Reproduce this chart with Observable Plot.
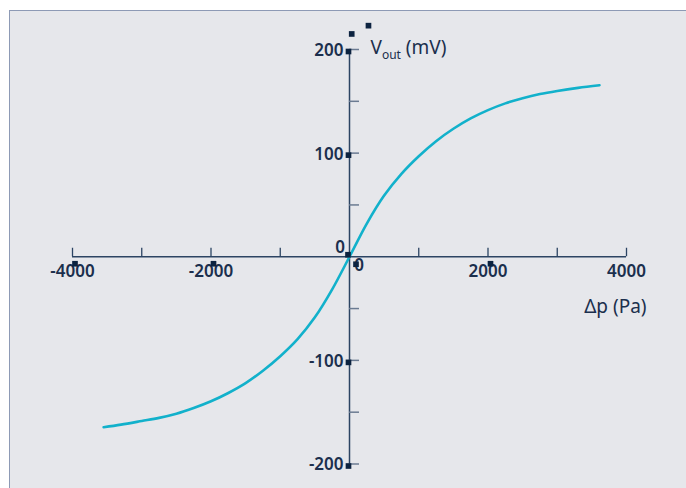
<!DOCTYPE html>
<html><head><meta charset="utf-8">
<script src="https://cdn.jsdelivr.net/npm/d3@7"></script>
<script src="https://cdn.jsdelivr.net/npm/@observablehq/plot@0.6"></script>
<style>
html,body{margin:0;padding:0;background:#fff;overflow:hidden;}
#wrap{position:relative;width:686px;height:488px;}
#panel{position:absolute;left:9px;top:10px;right:0;bottom:0;background:#e6e7eb;border-top:1.5px solid #8d9ab5;border-left:1.5px solid #8d9ab5;}
#chart{position:absolute;left:0;top:0;}
</style></head><body>
<div id="wrap"><div id="panel"></div><div id="chart"></div></div>
<script>
// Sensor output voltage vs. differential pressure
const pressure = [-3550, -3300, -3000, -2750, -2500, -2250, -2000, -1750, -1500, -1250, -1000, -750, -500, -250, 0,
                  250, 500, 750, 1000, 1250, 1500, 1750, 2000, 2250, 2500, 2750, 3000, 3300, 3610];
const voltage  = [-164.5, -162, -158.5, -155.5, -151.5, -146, -139.5, -131.5, -122, -110, -96, -79.5, -58.5, -31.5, 0,
                  32, 59, 80, 97, 111.5, 123.5, 133.5, 141.5, 148, 153, 157, 160, 163, 165.5];

const xLabelTicks = [-4000, -2000, 2000, 4000];
const xMinorTicks = [-3000, -1000, 1000, 3000];
const yTicks = [-200, -150, -100, -50, 50, 100, 150, 200];
const yLabelTicks = [-200, -100, 100, 200];
const zeroLabel = ["0"];
const xTitle = ["Δp (Pa)"];
const yTitle = ["Vout (mV)"];

// small square markers seen in the picture
const xMarkers = [-4000, -2000, 2000];
const yMarkers = [-200, -100, 100, 200];
const strayX = [32, 274];
const strayY = [215, 223];

const curve = pressure.map((p, i) => ({p, v: voltage[i]}));
const strays = strayX.map((x, i) => ({x, y: strayY[i]}));

const axisColor = "#2c4463";
const textColor = "#1b2f4d";
const squareColor = "#0c2340";

const chart = Plot.plot({
  width: 686, height: 488,
  marginLeft: 72, marginRight: 60, marginTop: 49, marginBottom: 24.5,
  x: {domain: [-4000, 4000], axis: null},
  y: {domain: [-200, 200], axis: null},
  style: {background: "transparent", fontFamily: "'Noto Sans', 'Open Sans', sans-serif", overflow: "visible"},
  marks: [
    Plot.ruleY([0], {x1: -4000, x2: 4000, stroke: axisColor, strokeWidth: 1.5}),
    Plot.ruleX([0], {y1: -200, y2: 200, stroke: axisColor, strokeWidth: 1.5}),
    Plot.ruleX([...xLabelTicks, ...xMinorTicks], {x: d => d, y1: 0, y2: 0, insetBottom: 8.5, stroke: axisColor, strokeWidth: 1.3}),
    Plot.ruleY(yTicks, {y: d => d, x1: 0, x2: 0, insetLeft: 10, stroke: "#6b7b92", strokeWidth: 1.5}),
    Plot.line(curve, {x: "p", y: "v", stroke: "#12b1cb", strokeWidth: 2.6, curve: "catmull-rom"}),
    Plot.text(xLabelTicks, {x: d => d, y: 0, text: d => String(d), dy: 14.5, fontSize: 17, fontWeight: 600, fill: textColor}),
    Plot.text(yLabelTicks, {x: 0, y: d => d, text: d => String(d), textAnchor: "end", dx: -6, dy: 1, fontSize: 17, fontWeight: 600, fill: textColor}),
    Plot.text(zeroLabel, {x: 0, y: 0, text: d => d, textAnchor: "end", dx: -4.5, dy: -9, fontSize: 17, fontWeight: 600, fill: textColor}),
    Plot.text(zeroLabel, {x: 0, y: 0, text: d => d, dx: 9.5, dy: 9, fontSize: 17, fontWeight: 600, fill: textColor}),
    Plot.text(xTitle, {x: 4000, y: 0, text: d => d, textAnchor: "end", dx: 20, dy: 50, fontSize: 19, fill: textColor}),
    Plot.text(yTitle, {x: 0, y: 200, text: d => d, textAnchor: "start", lineAnchor: "bottom", dx: 21, dy: 4, fontSize: 19, fill: textColor}),
    Plot.dot(xMarkers, {x: d => d, y: 0, dx: 2.5, dy: 7, symbol: "square", r: 3.2, fill: squareColor}),
    Plot.dot([0], {x: d => d, y: 0, dx: 6.5, dy: 7.5, symbol: "square", r: 3.2, fill: squareColor}),
    Plot.dot(yMarkers, {x: 0, y: d => d, dx: -1, dy: 2, symbol: "square", r: 3.2, fill: squareColor}),
    Plot.dot([0], {x: 0, y: d => d, dx: -1.5, dy: -2, symbol: "square", r: 3.2, fill: squareColor}),
    Plot.dot(strays, {x: "x", y: "y", symbol: "square", r: 3.2, fill: squareColor})
  ]
});

d3.select(chart).selectAll("text").filter(function() { return this.textContent === "Vout (mV)"; }).each(function() {
  const t = d3.select(this);
  t.text(null);
  t.append("tspan").text("V");
  t.append("tspan").attr("font-size", 12).attr("dy", 5.6).text("out");
  t.append("tspan").attr("dy", -5.6).text(" (mV)");
});

document.getElementById("chart").appendChild(chart);
</script>
</body></html>
